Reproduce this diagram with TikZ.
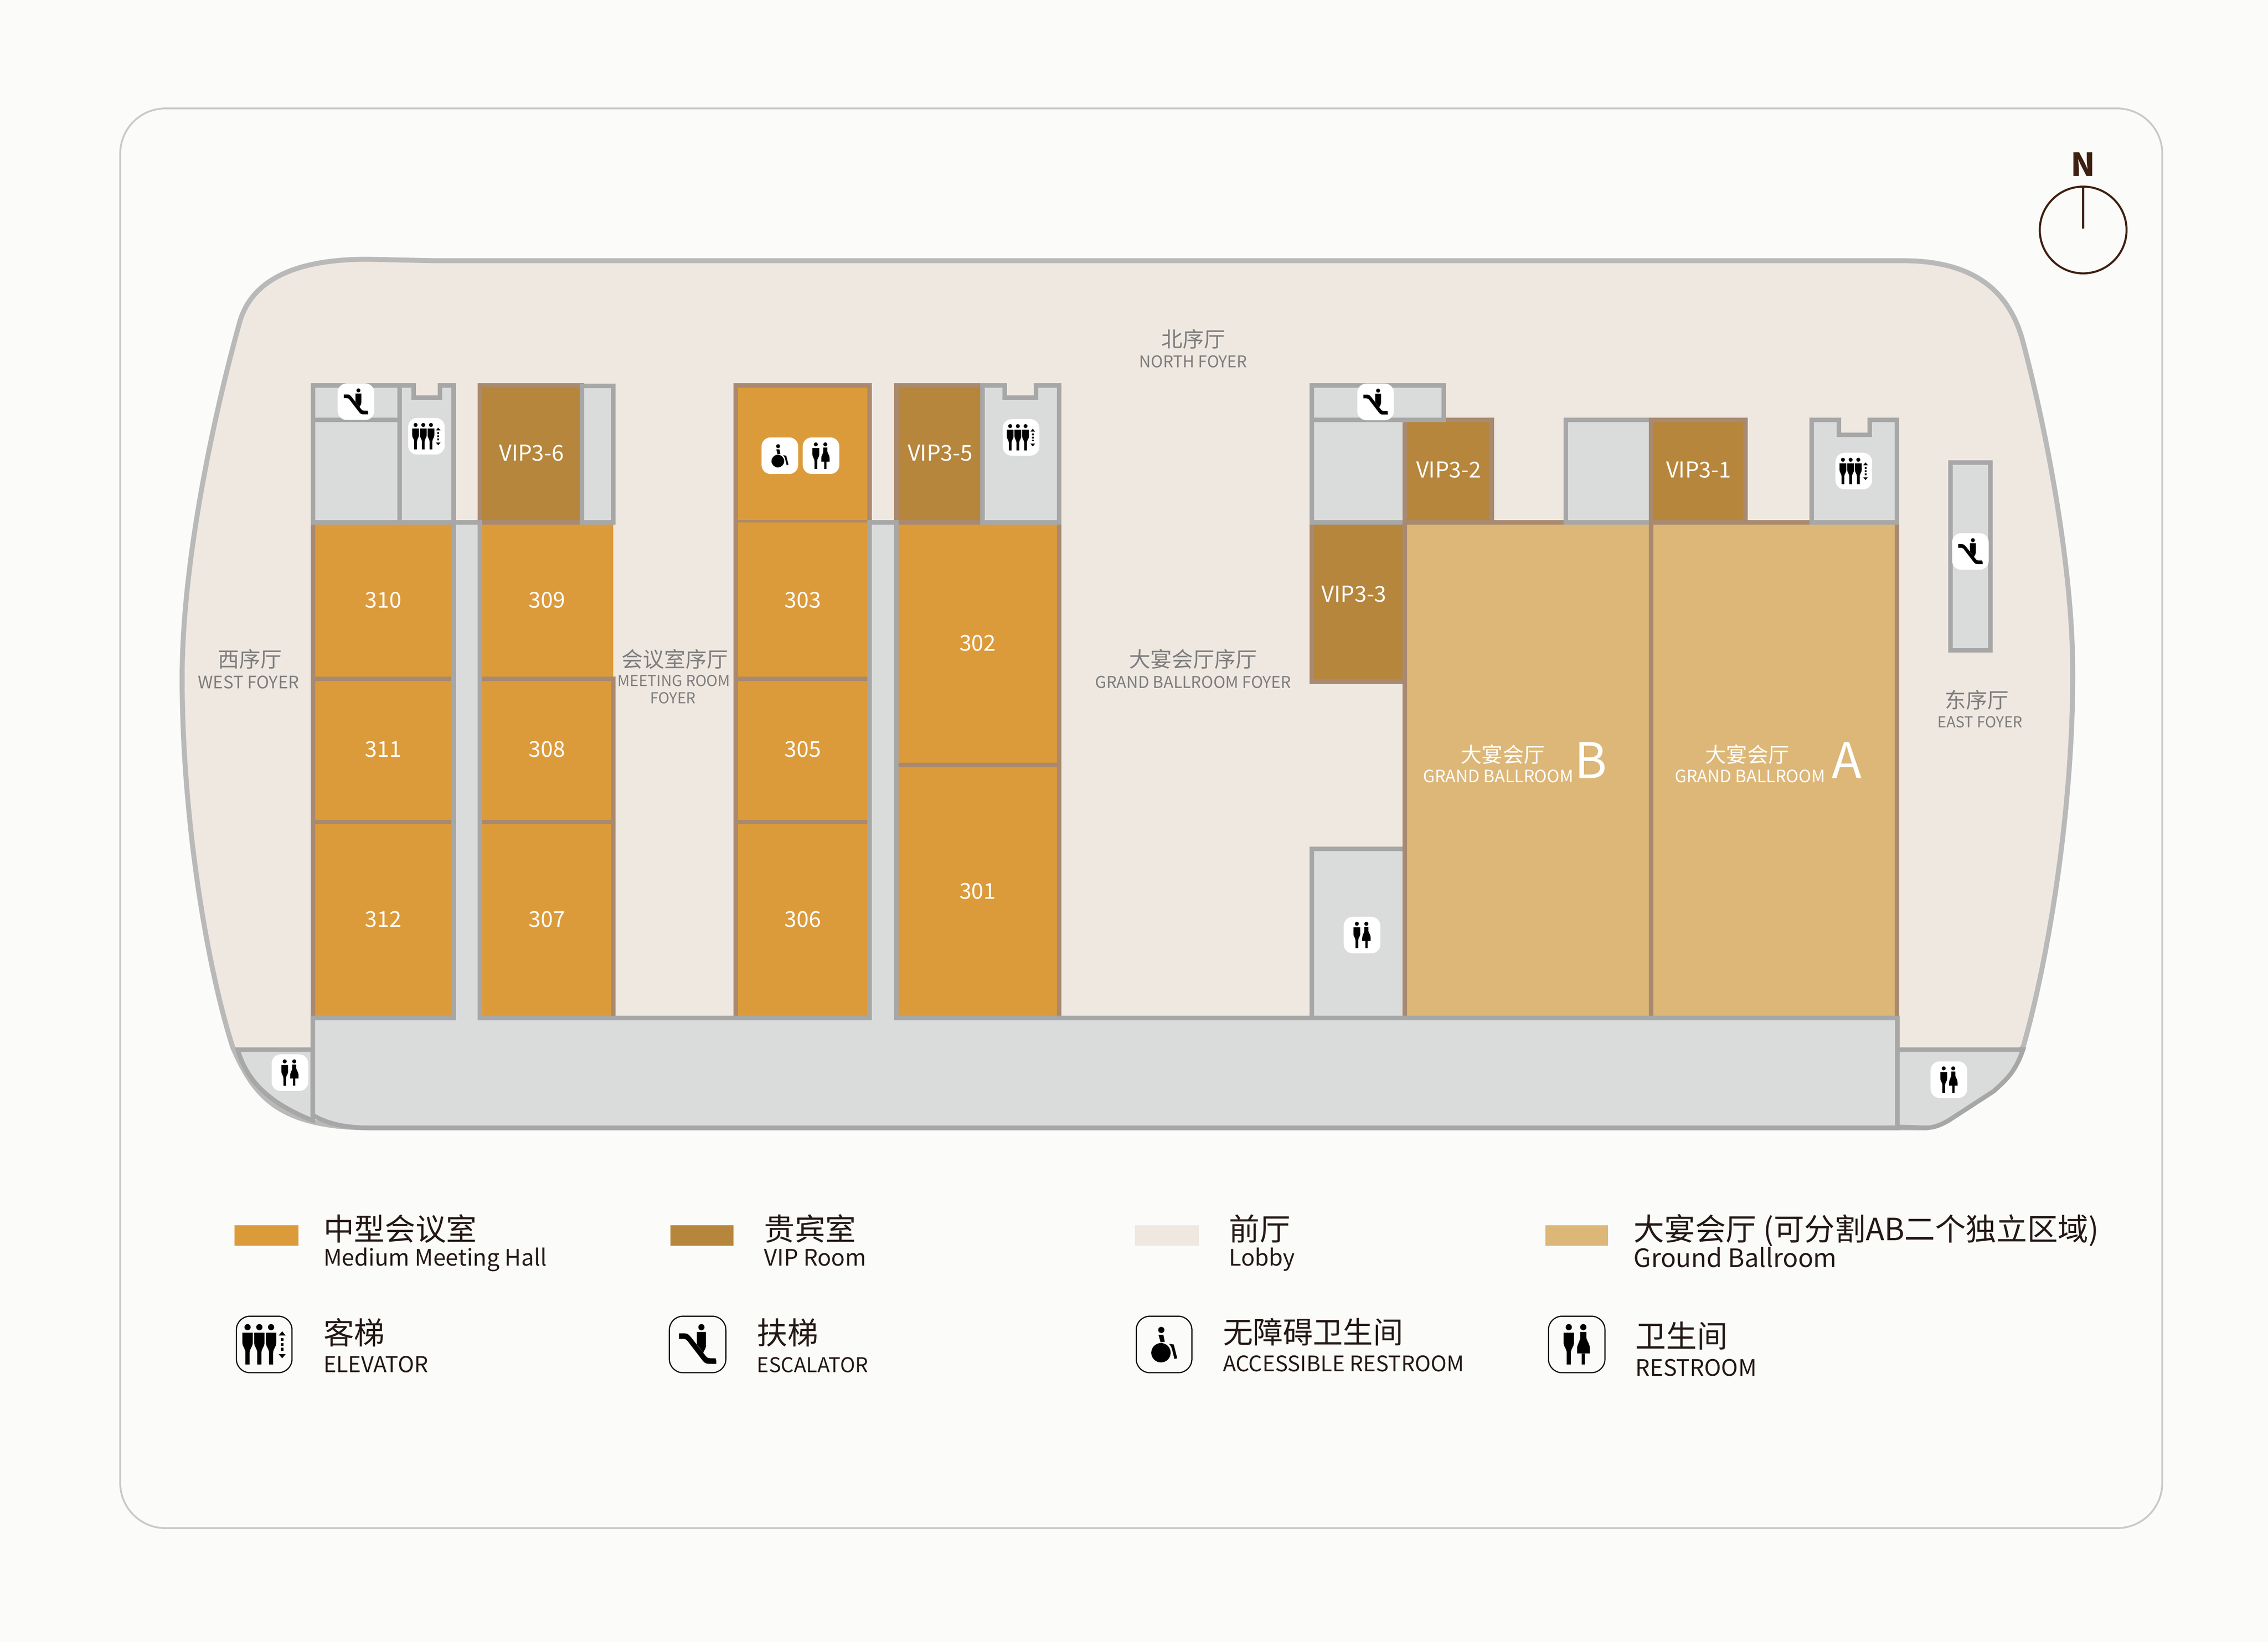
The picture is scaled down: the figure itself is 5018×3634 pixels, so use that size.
\documentclass[tikz,border=0pt]{standalone}
\usepackage{fontspec}
\usepackage{xcolor}
\usepackage{tikz}
\setmainfont{Noto Sans CJK SC}

\definecolor{pagecol}{HTML}{FBFBF9}
\definecolor{framecol}{HTML}{C9C9C6}
\definecolor{lobbycol}{HTML}{EFE8E1}
\definecolor{outlinecol}{HTML}{B9B9B9}
\definecolor{servicecol}{HTML}{DADCDB}
\definecolor{wallgrey}{HTML}{A6A7A6}
\definecolor{wallbrown}{HTML}{A98A70}
\definecolor{meetcol}{HTML}{DC9B3B}
\definecolor{vipcol}{HTML}{B5863C}
\definecolor{ballcol}{HTML}{DCB778}
\definecolor{floortext}{HTML}{7D7D7D}
\definecolor{inkcol}{HTML}{231815}
\definecolor{northcol}{HTML}{3E2010}

\tikzset{
  meetroom/.style={fill=meetcol,draw=wallbrown,line width=0.1cm},
  viproom/.style={fill=vipcol,draw=wallbrown,line width=0.1cm},
  ballroom/.style={fill=ballcol,draw=wallbrown,line width=0.1cm},
  service/.style={fill=servicecol,draw=wallgrey,line width=0.1cm},
  brownwall/.style={draw=wallbrown,line width=0.1cm},
  greywall/.style={draw=wallgrey,line width=0.1cm},
  iconbox/.style={fill=white,rounded corners=0.2cm},
  legendbox/.style={fill=pagecol,draw=black,line width=0.025cm,rounded corners=0.3cm},
  roomtext/.style={inner sep=0pt,text=white,font=\fontsize{13.8}{16}\selectfont},
  bigletter/.style={inner sep=0pt,text=white,font=\fontsize{31}{36}\selectfont},
  ballcn/.style={inner sep=0pt,text=white,font=\fontsize{13.2}{16}\selectfont},
  ballen/.style={inner sep=0pt,text=white,font=\fontsize{10.7}{12}\selectfont},
  floorcn/.style={inner sep=0pt,text=floortext,font=\fontsize{13.4}{16}\selectfont},
  flooren/.style={inner sep=0pt,text=floortext,font=\fontsize{10.2}{12}\selectfont},
  smallen/.style={inner sep=0pt,text=floortext,font=\fontsize{9.5}{12}\selectfont},
  wideen/.style={inner sep=0pt,text=floortext,font=\fontsize{10.8}{12}\selectfont},
  legendcn/.style={anchor=base west,inner sep=0pt,text=inkcol,font=\fontsize{19.3}{23}\selectfont},
  legenden/.style={anchor=base west,inner sep=0pt,text=inkcol,font=\fontsize{14.3}{17}\selectfont},
  pics/whitebox/.style={code={\path[iconbox] (-40.5,-40.5) rectangle (40.5,40.5);}},
  pics/wcglyph/.style={code={\manshape{-11.5}\womanshape}},
  pics/liftglyph/.style={code={\manshape{-24}\manshape{-7}\manshape{10}
    \fill (21,-13) -- (31,-13) -- (26,-19) -- cycle;
    \fill (21,14) -- (31,14) -- (26,20) -- cycle;
    \fill (24,-9) rectangle (28,-5);
    \fill (24,-2) rectangle (28,2);
    \fill (24,5) rectangle (28,9);}},
  pics/escglyph/.style={code={
    \fill (5.5,-25) circle (4.5);
    \fill (-1,-18) -- (12,-18) -- (12,2) .. controls (12,6) and (9,9) .. (8,12) -- (3,5) -- (-1,0) -- cycle;
    \fill (-27,-16) -- (-18,-16) .. controls (-14,-16) and (-12,-13) .. (-10,-11) -- (12,17)
      .. controls (14,20) and (17,20) .. (20,20) -- (26,20) -- (27,24) -- (27,28) -- (16,28)
      .. controls (12,28) and (9,26) .. (7,23) -- (-13,-3) .. controls (-15,-6) and (-17,-8) .. (-20,-8)
      -- (-27,-8) -- cycle;}},
  pics/accglyph/.style={code={
    \fill (-4,-21) circle (4.5);
    \fill (-8,-14) -- (-1,-14) -- (1,-4) -- (-5,-3) -- cycle;
    \fill (-4.5,12) circle (14);
    \fill (7,-1) -- (14,0) -- (19,20) -- (15,21) -- (12,9) .. controls (11,5) and (10,2) .. (7,-1) -- cycle;}},
}

% glyph figures, drawn around the centre of an icon
\newcommand{\manshape}[1]{\begin{scope}[shift={(#1,0)}]
  \fill (0,-25) circle (4.5);
  \fill (-7.5,-17) -- (7.5,-17) -- (7.5,-2) .. controls (7.5,3) and (3,6) .. (3,12) -- (3,29)
    -- (-3,29) -- (-3,12) .. controls (-3,6) and (-7.5,3) .. (-7.5,-2) -- cycle;
\end{scope}}
\newcommand{\womanshape}{
  \fill (9.5,-25) circle (4.5);
  \fill (5,-18) -- (14,-18) -- (14,-9) .. controls (16,-3) and (19,0) .. (19,6) -- (19,13)
    -- (0.5,13) -- (0.5,6) .. controls (0.5,0) and (4,-3) .. (5,-9) -- cycle;
  \fill (7,13) rectangle (12,29);}
\newcommand{\iconat}[2]{\pic at (#1) {whitebox}; \pic at (#1) {#2};}

\begin{document}
\begin{tikzpicture}[x=0.01cm,y=-0.01cm]
  \useasboundingbox (0,0) rectangle (5018,3634);
  \fill[pagecol] (0,0) rectangle (5018,3634);

  % Frame
  \draw[framecol,line width=0.04cm,rounded corners=1cm] (266,240) rectangle (4784,3382);

  % Compass
  \draw[northcol,line width=0.045cm] (4609,509) circle (96);
  \draw[northcol,line width=0.045cm] (4609,413) -- (4609,506);
  \node (north) [inner sep=0pt,text=northcol,font=\bfseries\fontsize{20}{24}\selectfont] at (4609,364) {N};

  % Lobby
  \draw[fill=lobbycol,draw=outlinecol,line width=0.11cm]
    (961,577) -- (4210,577)
    .. controls (4350,577) and (4440,630) .. (4474,750)
    .. controls (4525,940) and (4586,1250) .. (4586,1490)
    .. controls (4586,1800) and (4530,2130) .. (4476,2318)
    -- (4262,2496) -- (821,2496)
    .. controls (610,2496) and (560,2420) .. (515,2318)
    .. controls (455,2130) and (403,1800) .. (403,1500)
    .. controls (403,1250) and (470,930) .. (530,714)
    .. controls (560,606) and (680,572) .. (821,574) -- cycle;

  % West rooms
  \path[fill=meetcol] (692,1156) rectangle (1004,2253);
  \draw[brownwall] (692,1156) -- (692,2253);
  \draw[brownwall] (692,1502) -- (1004,1502);
  \draw[brownwall] (692,1819) -- (1004,1819);
  \path[fill=meetcol] (1062,1156) rectangle (1357,2253);
  \draw[brownwall] (1357,1497) -- (1357,2253);
  \draw[brownwall] (1062,1502) -- (1362,1502);
  \draw[brownwall] (1062,1819) -- (1357,1819);

  % Stairs beside room 310
  \draw[service] (692,853) -- (915,853) -- (915,880) -- (973,880) -- (973,853) -- (1004,853)
    -- (1004,1156) -- (692,1156) -- cycle;
  \draw[greywall] (884,853) -- (884,1156);
  \draw[greywall] (692,929) -- (884,929);

  % VIP 3-6
  \draw[viproom] (1062,853) rectangle (1288,1156);
  \draw[service] (1288,854) rectangle (1357,1156);

  % Middle rooms
  \draw[meetroom] (1628,853) rectangle (1924,1156);
  \path[fill=meetcol] (1628,1156) rectangle (1924,2253);
  \draw[brownwall] (1628,1151) -- (1628,2253);
  \draw[brownwall] (1623,1502) -- (1924,1502);
  \draw[brownwall] (1623,1819) -- (1924,1819);
  \path[fill=meetcol] (1983,1156) rectangle (2343,2253);
  \draw[brownwall] (2343,1156) -- (2343,2253);
  \draw[brownwall] (1983,1693) -- (2348,1693);
  \draw[viproom] (1983,853) rectangle (2174,1156);
  \draw[service] (2174,853) -- (2223,853) -- (2223,880) -- (2292,880) -- (2292,853) -- (2343,853)
    -- (2343,1156) -- (2174,1156) -- cycle;

  % East rooms
  \draw[service] (2902,1879) rectangle (3108,2258);
  \draw[viproom] (2902,1156) rectangle (3108,1508);
  \draw[ballroom] (3108,1156) rectangle (3653,2253);
  \draw[ballroom] (3653,1156) rectangle (4197,2253);
  \draw[service] (2902,929) rectangle (3108,1156);
  \draw[viproom] (3108,929) rectangle (3301,1156);
  \draw[service] (2902,853) rectangle (3194,929);
  \draw[service] (3464,929) rectangle (3653,1156);
  \draw[viproom] (3653,929) rectangle (3862,1156);
  \draw[service] (4008,929) -- (4069,929) -- (4069,962) -- (4137,962) -- (4137,929) -- (4197,929)
    -- (4197,1156) -- (4008,1156) -- cycle;
  \draw[service] (4315,1024) rectangle (4404,1439);

  % South corridor and the restrooms at its ends
  \draw[service] (692,2323) -- (526,2323) .. controls (548,2400) and (605,2445) .. (692,2480) -- cycle;
  \draw[service] (4198,2323) -- (4476,2323) .. controls (4458,2375) and (4436,2392) .. (4411,2415)
    -- (4311,2480) .. controls (4290,2492) and (4275,2496) .. (4262,2496) -- (4198,2494) -- cycle;
  \draw[service] (692,2253) -- (4198,2253) -- (4198,2496) -- (821,2496)
    .. controls (770,2496) and (730,2490) .. (692,2468) -- cycle;
  \draw[service] (1004,2258) -- (1004,1156) -- (1062,1156) -- (1062,2258);
  \draw[service] (1924,2258) -- (1924,1156) -- (1983,1156) -- (1983,2258);
  \path[fill=servicecol] (1009,2240) rectangle (1057,2262);
  \path[fill=servicecol] (1929,2240) rectangle (1978,2262);

  % Icons on the plan
  \iconat{787.5,889}{escglyph}
  \iconat{943.5,965.5}{liftglyph}
  \iconat{641.5,2374}{wcglyph}
  \iconat{1725.5,1008.5}{accglyph}
  \iconat{1816.5,1008.5}{wcglyph}
  \iconat{2259,968}{liftglyph}
  \iconat{3043.5,889.5}{escglyph}
  \iconat{4101.5,1042.5}{liftglyph}
  \iconat{4359.5,1220.5}{escglyph}
  \iconat{3013.5,2069.5}{wcglyph}
  \iconat{4312,2389.5}{wcglyph}

  % Room labels
  \node (r310) [roomtext] at (848,1328) {310};
  \node (r311) [roomtext] at (848,1658) {311};
  \node (r312) [roomtext] at (848,2035) {312};
  \node (r309) [roomtext] at (1210,1328) {309};
  \node (r308) [roomtext] at (1210,1658) {308};
  \node (r307) [roomtext] at (1210,2035) {307};
  \node (r303) [roomtext] at (1776,1328) {303};
  \node (r305) [roomtext] at (1776,1658) {305};
  \node (r306) [roomtext] at (1776,2035) {306};
  \node (r302) [roomtext] at (2163,1423) {302};
  \node (r301) [roomtext] at (2163,1972) {301};
  \node (vip6) [roomtext] at (1176,1003) {VIP3-6};
  \node (vip5) [roomtext] at (2080,1003) {VIP3-5};
  \node (vip3) [roomtext] at (2996,1315) {VIP3-3};
  \node (vip2) [roomtext] at (3205,1040) {VIP3-2};
  \node (vip1) [roomtext] at (3758,1040) {VIP3-1};

  % Ballroom labels
  \node (ballBcn) [ballcn] at (3325,1670) {大宴会厅};
  \node (ballBen) [ballen] at (3315,1718) {GRAND BALLROOM};
  \node (ballB) [bigletter] at (3520,1683) {B};
  \node (ballAcn) [ballcn] at (3866,1670) {大宴会厅};
  \node (ballAen) [ballen] at (3872,1718) {GRAND BALLROOM};
  \node (ballA) [bigletter] at (4086,1683) {A};

  % Foyer labels
  \node (northcn) [floorcn] at (2640,750) {北序厅};
  \node (northen) [flooren] at (2640,800) {NORTH FOYER};
  \node (westcn) [floorcn] at (553,1459) {西序厅};
  \node (westen) [wideen] at (550,1510) {WEST FOYER};
  \node (meetcn) [floorcn] at (1493,1459) {会议室序厅};
  \node (meeten) [smallen] at (1491,1507) {MEETING ROOM};
  \node (meetenb) [smallen] at (1489,1545) {FOYER};
  \node (grandcn) [floorcn] at (2640,1459) {大宴会厅序厅};
  \node (granden) [flooren] at (2640,1510) {GRAND BALLROOM FOYER};
  \node (eastcn) [floorcn] at (4374,1549) {东序厅};
  \node (easten) [smallen] at (4381,1598) {EAST FOYER};

  % Legend, colours
  \path[fill=meetcol] (519,2712) rectangle (660,2757);
  \path[fill=vipcol] (1483,2712) rectangle (1623,2757);
  \path[fill=lobbycol] (2511,2712) rectangle (2652,2757);
  \path[fill=ballcol] (3419,2712) rectangle (3558,2757);
  \node (lgmeetcn) [legendcn] at (715,2745) {中型会议室};
  \node (lgmeeten) [legenden] at (715,2802) {Medium Meeting Hall};
  \node (lgvipcn) [legendcn] at (1690,2745) {贵宾室};
  \node (lgvipen) [legenden] at (1690,2802) {VIP Room};
  \node (lglobcn) [legendcn] at (2719,2745) {前厅};
  \node (lglobenn) [legenden] at (2719,2802) {Lobby};
  \node (lgballcn) [legendcn] at (3614,2745) {大宴会厅 (可分割AB二个独立区域)};
  \node (lgballen) [legenden,font=\fontsize{15.9}{19}\selectfont] at (3614,2805) {Ground Ballroom};

  % Legend, icons
  \draw[legendbox] (523,2913) rectangle (646,3038);
  \pic[scale=1.53] at (584.5,2975.5) {liftglyph};
  \draw[legendbox] (1481,2913) rectangle (1606,3038);
  \pic[scale=1.53] at (1543.5,2975.5) {escglyph};
  \draw[legendbox] (2514,2913) rectangle (2637,3038);
  \pic[scale=1.53] at (2575.5,2975.5) {accglyph};
  \draw[legendbox] (3426,2913) rectangle (3551,3038);
  \pic[scale=1.53] at (3488.5,2975.5) {wcglyph};
  \node (lgliftcn) [legendcn] at (715,2975) {客梯};
  \node (lgliften) [legenden,font=\fontsize{13.8}{17}\selectfont] at (715,3037) {ELEVATOR};
  \node (lgesccn) [legendcn] at (1674,2975) {扶梯};
  \node (lgescen) [legenden,font=\fontsize{12.8}{17}\selectfont] at (1674,3037) {ESCALATOR};
  \node (lgacccn) [legendcn,font=\fontsize{18.9}{23}\selectfont] at (2705,2973) {无障碍卫生间};
  \node (lgaccen) [legenden,font=\fontsize{13.5}{17}\selectfont] at (2705,3035) {ACCESSIBLE RESTROOM};
  \node (lgwccn) [legendcn] at (3618,2982) {卫生间};
  \node (lgwcen) [legenden] at (3618,3045) {RESTROOM};
\end{tikzpicture}
\end{document}
